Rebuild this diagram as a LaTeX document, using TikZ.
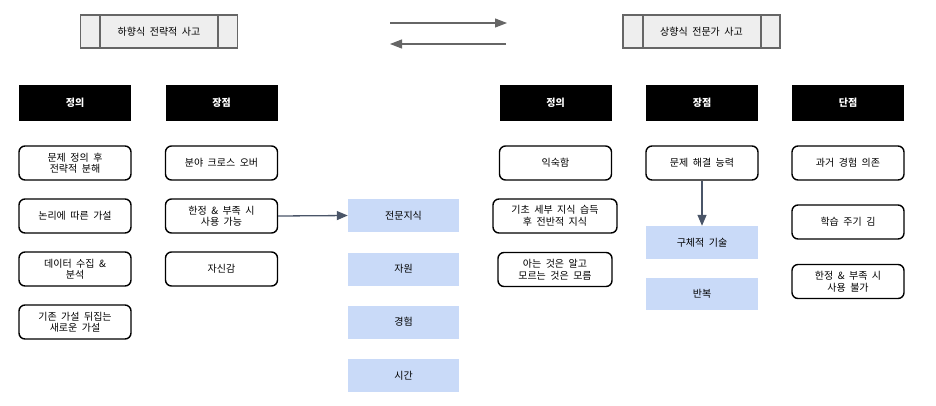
\documentclass[tikz,border=0pt]{standalone}
\usepackage{fontspec}
\setmainfont{Noto Sans CJK KR}[WordSpace=2]
\usetikzlibrary{arrows.meta}
\definecolor{procfill}{HTML}{EEEEEE}
\definecolor{procline}{HTML}{666666}
\definecolor{bluefill}{HTML}{C9DAF8}
\definecolor{arrowc}{HTML}{4A5568}
\begin{document}
\begin{tikzpicture}[x=1pt,y=-1pt,
  hdr/.style={fill=black,text=white,font=\fontsize{10}{12}\selectfont\bfseries,minimum width=112pt,minimum height=36pt,inner sep=0pt},
  wbox/.style={draw=black,line width=1.4pt,rounded corners=6pt,fill=white,minimum width=112pt,minimum height=34pt,align=center,font=\fontsize{10}{11.5}\selectfont,inner sep=0pt},
  bbox/.style={fill=bluefill,minimum width=111pt,minimum height=33pt,font=\fontsize{10}{12}\selectfont,inner sep=0pt},
  proc/.style={draw=procline,line width=1.1pt,fill=procfill,minimum width=157pt,minimum height=33pt,font=\fontsize{10}{12}\selectfont,inner sep=0pt},
  conn/.style={draw=arrowc,line width=1.3pt,-{Triangle[length=11pt,width=9pt]}},
  garrow/.style={draw=procline,line width=1.1pt,-{Triangle[length=12pt,width=9pt]}}]
\useasboundingbox (0,0) rectangle (936,405);
% top process boxes
\node[proc] (p1) at (159,31.5) {하향식 전략적 사고};
\draw[procline,line width=1.1pt] (100,15) -- (100,48) (218,15) -- (218,48);
\node[proc] (p2) at (701.5,31.5) {상향식 전문가 사고};
\draw[procline,line width=1.1pt] (643,15) -- (643,48) (761,15) -- (761,48);
\coordinate (a1s) at (390,23);
\coordinate (a1e) at (507,23);
\coordinate (a2s) at (506,44);
\coordinate (a2e) at (390,44);
\draw[garrow] (a1s) -- (a1e);
\draw[garrow] (a2s) -- (a2e);
% headers
\node[hdr] (h1) at (75,103) {정의};
\node[hdr] (h2) at (221.5,103) {장점};
\node[hdr] (h3) at (555.5,103) {정의};
\node[hdr] (h4) at (702,103) {장점};
\node[hdr] (h5) at (848,103) {단점};
% column 1
\node[wbox] (c1a) at (75,163) {문제 정의 후\\전략적 분해};
\node[wbox] (c1b) at (75,216) {논리에 따른 가설};
\node[wbox] (c1c) at (75,269) {데이터 수집 \&\\분석};
\node[wbox] (c1d) at (75,322) {기존 가설 뒤집는\\새로운 가설};
% column 2
\node[wbox] (c2a) at (221.5,163) {분야 크로스 오버};
\node[wbox] (c2b) at (221.5,216) {한정 \& 부족 시\\사용 가능};
\node[wbox] (c2c) at (221.5,269) {자신감};
% blue middle
\node[bbox] (b1) at (403.5,215.5) {전문지식};
\node[bbox] (b2) at (403.5,269) {자원};
\node[bbox] (b3) at (403.5,322) {경험};
\node[bbox] (b4) at (403.5,375.5) {시간};
\draw[conn] (c2b.east) -- (b1.west);
% column 3
\node[wbox] (c3a) at (555.5,163) {익숙함};
\node[wbox,minimum width=124pt] (c3b) at (555,216) {기초 세부 지식 습득\\후 전반적 지식};
\node[wbox,minimum width=114pt] (c3c) at (555,269.5) {아는 것은 알고\\모르는 것은 모름};
% column 4
\node[wbox] (c4a) at (702,163) {문제 해결 능력};
\node[bbox,minimum width=112pt] (c4b) at (702,242.5) {구체적 기술};
\node[bbox,minimum width=112pt,minimum height=32pt] (c4c) at (702,294) {반복};
\draw[conn] (c4a.south) -- (c4b.north);
% column 5
\node[wbox] (c5a) at (848,163) {과거 경험 의존};
\node[wbox] (c5b) at (848,222) {학습 주기 김};
\node[wbox] (c5c) at (848,281.5) {한정 \& 부족 시\\사용 불가};
\end{tikzpicture}
\end{document}
